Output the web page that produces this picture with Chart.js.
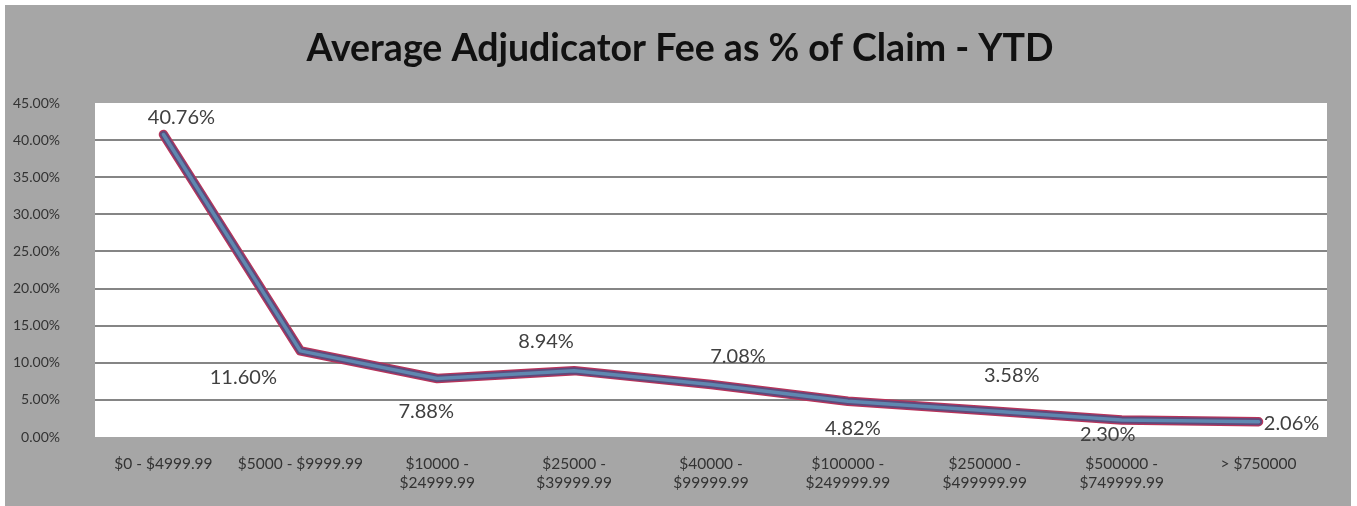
<!DOCTYPE html>
<html>
<head>
<meta charset="utf-8">
<title>Average Adjudicator Fee as % of Claim - YTD</title>
<script src="https://cdn.jsdelivr.net/npm/chart.js@4"></script>
<style>
    body { margin: 0; background: #ffffff; }
    #wrap { position: absolute; left: 5px; top: 5px; width: 1346px; height: 501px; background: #a6a6a6; }
    #feeChart { display: block; }
</style>
</head>
<body>
<div id="wrap"><canvas id="feeChart" width="1346" height="501"></canvas></div>
<script>
// Chart data
const claimBands = [
    '$0 - $4999.99',
    '$5000 - $9999.99',
    ['$10000 -', '$24999.99'],
    ['$25000 -', '$39999.99'],
    ['$40000 -', '$99999.99'],
    ['$100000 -', '$249999.99'],
    ['$250000 -', '$499999.99'],
    ['$500000 -', '$749999.99'],
    '> $750000'
];
const feePercent = [40.76, 11.60, 7.88, 8.94, 7.08, 4.82, 3.58, 2.30, 2.06];
const yTicks = [0, 5, 10, 15, 20, 25, 30, 35, 40, 45];

// where each value label sits relative to its point (px)
const labelOffsets = [[18, -17], [-57, 27], [-11, 33], [-28, -29], [27, -28], [5, 27], [27, -35], [-14, 15], [33, 2]];

const titleText = 'Average Adjudicator Fee as % of Claim - YTD';

// white plot area + title + value labels
const excelLook = {
    id: 'excelLook',
    beforeDraw(chart) {
        const { ctx, chartArea } = chart;
        ctx.save();
        ctx.fillStyle = '#ffffff';
        ctx.fillRect(chartArea.left, chartArea.top, chartArea.right - chartArea.left, chartArea.bottom - chartArea.top);
        ctx.restore();
    },
    afterDraw(chart) {
        const ctx = chart.ctx;
        ctx.save();
        ctx.fillStyle = '#111111';
        ctx.font = 'bold 37.5px Lato';
        ctx.textAlign = 'center';
        ctx.textBaseline = 'alphabetic';
        ctx.fillText(titleText, 675, 56);

        const meta = chart.getDatasetMeta(0);
        ctx.fillStyle = '#404040';
        ctx.font = '20px Lato';
        ctx.textBaseline = 'middle';
        meta.data.forEach((pt, i) => {
            const off = labelOffsets[i];
            ctx.fillText(feePercent[i].toFixed(2) + '%', pt.x + off[0], pt.y + off[1]);
        });
        ctx.restore();
    }
};

const lineData = (color, width) => ({
    data: feePercent,
    borderColor: color,
    borderWidth: width,
    pointRadius: 0,
    tension: 0,
    fill: false,
    borderJoinStyle: 'round',
    borderCapStyle: 'round'
});

// dataset 0 is painted on top, so the thin core comes first
new Chart(document.getElementById('feeChart'), {
    type: 'line',
    data: {
        labels: claimBands,
        datasets: [
            lineData('#5f88b0', 3.5),
            lineData('#5e4a7c', 7),
            lineData('#b8345a', 9.5)
        ]
    },
    options: {
        responsive: false,
        animation: false,
        layout: { padding: { top: 98, right: 24, left: 0, bottom: 0 } },
        plugins: {
            legend: { display: false },
            title: { display: false },
            tooltip: { enabled: false }
        },
        scales: {
            x: {
                offset: true,
                grid: { display: false, drawTicks: false },
                border: { display: false },
                ticks: {
                    color: '#333333',
                    padding: 17,
                    maxRotation: 0,
                    autoSkip: false,
                    font: { family: 'Lato', size: 15.5, lineHeight: 1.23 }
                },
                afterFit(scale) { scale.height = 69; }
            },
            y: {
                min: 0,
                max: 45,
                afterBuildTicks(scale) { scale.ticks = yTicks.map(v => ({ value: v })); },
                grid: {
                    drawTicks: false,
                    lineWidth: 2,
                    color: ctx => (ctx.tick && (ctx.tick.value === 0 || ctx.tick.value === 45)) ? 'rgba(0,0,0,0)' : '#858585'
                },
                border: { display: false },
                ticks: {
                    color: '#333333',
                    padding: 35,
                    font: { family: 'Lato', size: 14 },
                    callback: v => v.toFixed(2) + '%'
                },
                afterFit(scale) { scale.width = 90; }
            }
        }
    },
    plugins: [excelLook]
});
</script>
</body>
</html>
